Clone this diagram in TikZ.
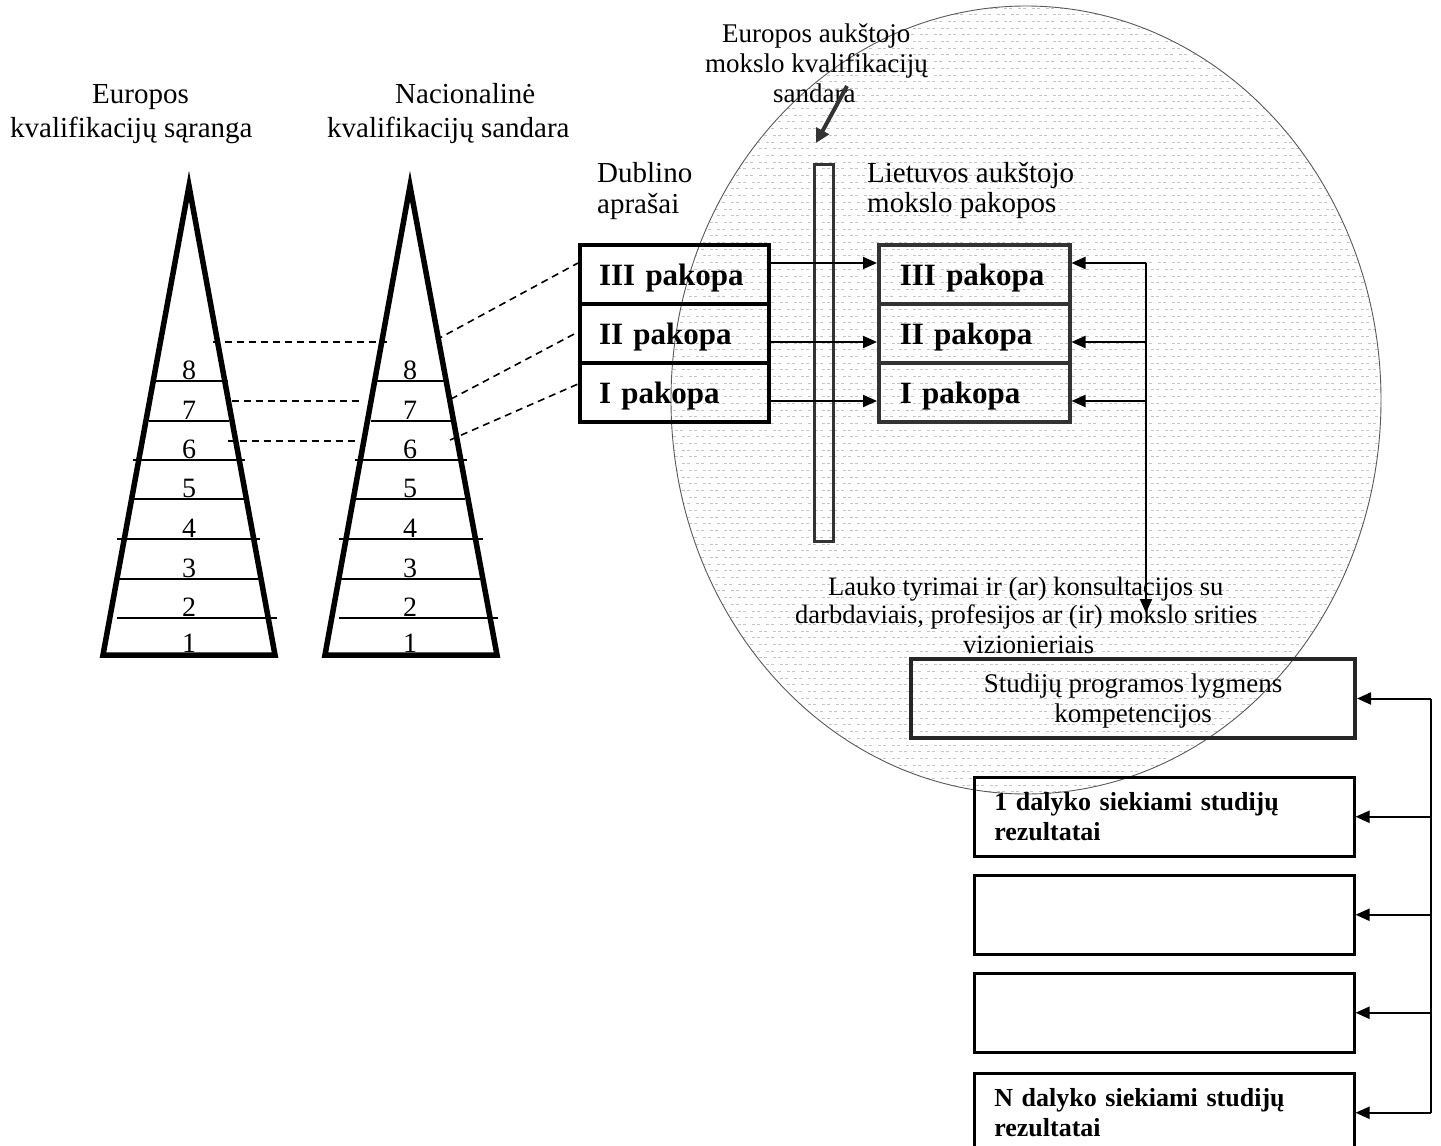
\documentclass[tikz,border=0pt]{standalone}
\usepackage{fontspec}
\setmainfont{Liberation Serif}
\usetikzlibrary{arrows.meta,calc}
\begin{document}
\begin{tikzpicture}[x=1pt,y=-1pt,
  txt/.style={anchor=base west, inner sep=0pt, font=\fontsize{29}{34}\selectfont},
  txtc/.style={anchor=base west, inner sep=0pt, font=\fontsize{27}{30}\selectfont},
  txtl/.style={anchor=base west, inner sep=0pt, font=\fontsize{26.5}{30}\selectfont},
  num/.style={anchor=base, inner sep=0pt, font=\fontsize{28}{30}\selectfont},
  tri/.style={line width=5.5pt, line join=miter},
  lvl/.style={line width=2pt},
  dsh/.style={line width=1.6pt, dash pattern=on 7pt off 5pt},
  dbox/.style={draw, line width=4pt, anchor=north west, minimum height=59pt, text width=151pt, inner xsep=19pt, inner ysep=0pt, align=left, text depth=0pt, font=\bfseries\fontsize{31}{34}\selectfont},
  rbox/.style={dbox, draw=black!80, line width=3.5pt, text width=149pt, inner xsep=21pt},
  arr/.style={line width=2pt, -{Triangle[length=14pt,width=12pt]}},
  resbox/.style={draw, line width=2.5pt, anchor=north west, minimum height=79pt, text width=340pt, inner xsep=20pt, inner ysep=0pt, align=left, font=\bfseries\fontsize{26}{30}\selectfont},
  pat/.style={gray!45, line width=1pt, dash pattern=on 3pt off 2pt on 3pt off 6pt},
]
\fill[white] (0,0) rectangle (1441,1146);
\useasboundingbox (0,0) rectangle (1441,1146);

% textured circle
\begin{scope}
  \clip (1026,400) ellipse [x radius=355pt, y radius=394pt];
  \foreach \i [evaluate=\i as \yy using {8+6.7*\i}, evaluate=\i as \ph using {mod(\i,2)*7}] in {0,...,118}
    { \draw[pat, dash phase=\ph pt] (668,\yy) -- (1384,\yy); }
\end{scope}
\draw[gray!70!black, line width=0.9pt] (1026,400) ellipse [x radius=355pt, y radius=394pt];

% titles
\node[txt] (euT1) at (92,103) {Europos};
\node[txt] (euT2) at (10,137) {kvalifikacijų sąranga};
\node[txt] (naT1) at (395,103) {Nacionalinė};
\node[txt] (naT2) at (327,137) {kvalifikacijų sandara};
\node[txtc] (ehT1) at (722,42) {Europos aukštojo};
\node[txtc] (ehT2) at (705,72) {mokslo kvalifikacijų};
\node[txtc] (ehT3) at (773,102) {sandara};
\node[txt] (dubT1) at (597,182) {Dublino};
\node[txt] (dubT2) at (597,213) {aprašai};
\node[txt] (ltT1) at (867,182) {Lietuvos aukštojo};
\node[txt] (ltT2) at (867,212) {mokslo pakopos};
\node[txtl] (lkT1) at (828,595) {Lauko tyrimai ir (ar) konsultacijos su};
\node[txtl] (lkT2) at (795,623) {darbdaviais, profesijos ar (ir) mokslo srities};
\node[txtl] (lkT3) at (963,653) {vizionieriais};

% triangles
\draw[tri] (189,186) -- (275,655) -- (103,655) -- cycle;
\draw[tri] (410,186) -- (497,655) -- (325,655) -- cycle;
\foreach \y/\a/\b in {381/152/228, 421/149/229, 460/133/245, 499/133/244, 539/117/260, 579/119/259, 618/117/277}
  { \draw[lvl] (\a,\y) -- (\b,\y); }
\foreach \y/\a/\b in {381/375/445, 421/371/452, 460/355/467, 499/355/465, 539/339/483, 579/341/481, 618/339/498}
  { \draw[lvl] (\a,\y) -- (\b,\y); }
\foreach \n/\y in {8/379, 7/419, 6/458, 5/497, 4/537, 3/577, 2/616, 1/652}
  { \node[num] (eN\n) at (189,\y) {\n}; \node[num] (nN\n) at (410,\y) {\n}; }

% Dublin and Lithuanian cycle boxes
\node[dbox] (D3) at (578,243) {III pakopa};
\node[dbox] (D2) at (578,302) {II pakopa};
\node[dbox] (D1) at (578,361) {I pakopa};
\node[rbox] (R3) at (877,243) {III pakopa};
\node[rbox] (R2) at (877,302) {II pakopa};
\node[rbox] (R1) at (877,361) {I pakopa};

% dashed links
\coordinate (h8a) at (213,342); \coordinate (h8b) at (387,342);
\coordinate (h7a) at (232,401); \coordinate (h7b) at (362,401);
\coordinate (h6a) at (228,441); \coordinate (h6b) at (357,441);
\coordinate (g3) at (436,340); \coordinate (g2) at (451,399); \coordinate (g1) at (450,440);
\draw[dsh] (h8a) -- (h8b);
\draw[dsh] (h7a) -- (h7b);
\draw[dsh] (h6a) -- (h6b);
\draw[dsh] (g3) -- ($(D3.west)+(0,-11.5)$);
\draw[dsh] (g2) -- ($(D2.west)+(0,-1.5)$);
\draw[dsh] (g1) -- ($(D1.west)+(0,-8.5)$);

% vertical bar and arrow from label
\node[draw=black!80, line width=3pt, minimum width=19pt, minimum height=377pt, inner sep=0pt, anchor=north west] (bar) at (813,163) {};
\coordinate (sa) at (847,86); \coordinate (sb) at (816,143);
\draw[black!80, line width=4pt, -{Triangle[length=14pt,width=14pt]}] (sa) -- (sb);

% right collector
\coordinate (V3) at (1146,263); \coordinate (V2) at (1146,342); \coordinate (V1) at (1146,401);
\coordinate (Vend) at (1146,613);
\draw[line width=2pt, -{Triangle[length=14pt,width=12pt]}] (V3) -- (Vend);
\draw[arr] (V3) -- (R3.east |- V3);
\draw[arr] (V2) -- (R2.east |- V2);
\draw[arr] (V1) -- (R1.east |- V1);
\draw[arr] (D3.east |- V3) -- (R3.west |- V3);
\draw[arr] (D2.east |- V2) -- (R2.west |- V2);
\draw[arr] (D1.east |- V1) -- (R1.west |- V1);

% programme box
\node[draw=black!85, line width=4pt, minimum width=444pt, minimum height=79pt, anchor=north west, align=center, inner sep=0pt, text depth=0pt, font=\fontsize{27}{30}\selectfont] (S) at (909,657) {Studijų programos lygmens\\kompetencijos};

% subject boxes
\node[resbox] (B1) at (973,776) {1 dalyko siekiami studijų\\rezultatai};
\node[resbox] (B2) at (973,874) {};
\node[resbox] (B3) at (973,972) {};
\node[resbox] (B4) at (973,1072) {N dalyko siekiami studijų\\rezultatai};

\coordinate (Wx) at (1431,0);
\coordinate (Wt) at (S.east -| Wx);
\coordinate (Wb) at (B4.east -| Wx);
\draw[line width=2pt] (Wt) -- (Wb);
\draw[arr] (Wt) -- (S.east);
\draw[arr] (B1.east -| Wx) -- (B1.east);
\draw[arr] (B2.east -| Wx) -- (B2.east);
\draw[arr] (B3.east -| Wx) -- (B3.east);
\draw[arr] (Wb) -- (B4.east);
\end{tikzpicture}
\end{document}
